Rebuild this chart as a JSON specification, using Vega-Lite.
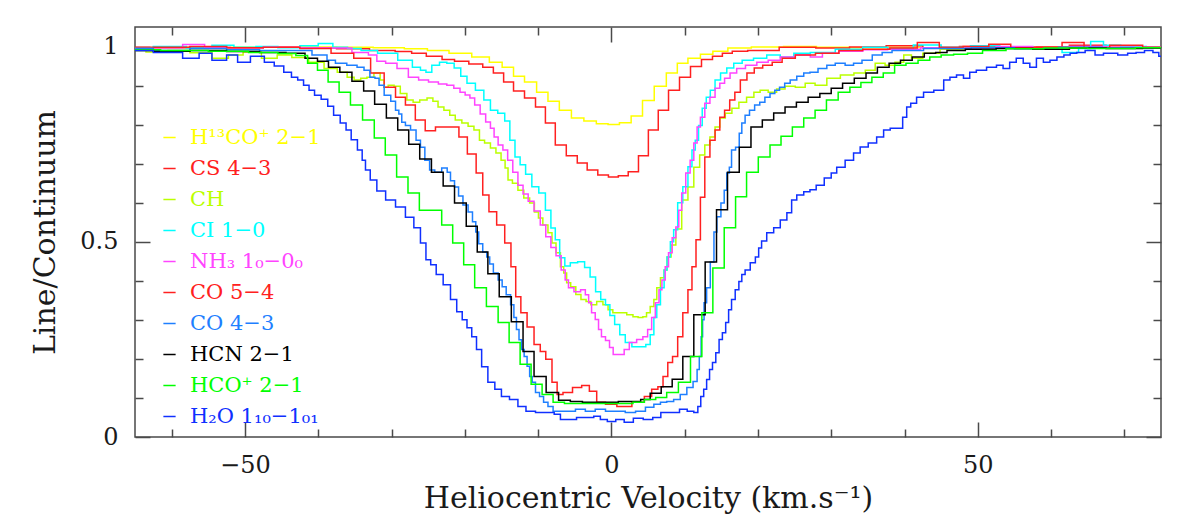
{
"$schema": "https://vega.github.io/schema/vega-lite/v6.json",
"width": 1026, "height": 410,
"autosize": {"type": "none"},
"padding": {"left": 135, "top": 27, "right": 19, "bottom": 78},
"background": "white",
"config": {
  "view": {"stroke": "#4a4a4a", "strokeWidth": 1.5},
  "font": "DejaVu Serif",
  "axis": {"domain": false, "grid": false, "tickColor": "#4a4a4a", "tickWidth": 1.5, "labelFont": "DejaVu Serif", "titleFont": "DejaVu Serif", "labelColor": "#1a1a1a", "titleColor": "#1a1a1a", "titleFontWeight": "normal", "labelFlush": false}
},
"data": {"values": [
{"s":"H13","v":-65,"y":0.997},{"s":"H13","v":-60,"y":0.998},{"s":"H13","v":-55,"y":0.999},{"s":"H13","v":-50,"y":0.998},{"s":"H13","v":-45,"y":0.998},{"s":"H13","v":-40,"y":0.999},{"s":"H13","v":-35,"y":0.998},{"s":"H13","v":-30,"y":0.997},{"s":"H13","v":-26.5,"y":0.994},{"s":"H13","v":-23.7,"y":0.99},{"s":"H13","v":-20.6,"y":0.983},{"s":"H13","v":-17.5,"y":0.973},{"s":"H13","v":-15.8,"y":0.96},{"s":"H13","v":-14.0,"y":0.947},{"s":"H13","v":-12.7,"y":0.924},{"s":"H13","v":-11.0,"y":0.909},{"s":"H13","v":-9.4,"y":0.883},{"s":"H13","v":-7.9,"y":0.86},{"s":"H13","v":-6.3,"y":0.837},{"s":"H13","v":-4.6,"y":0.817},{"s":"H13","v":-2.9,"y":0.809},{"s":"H13","v":-1.2,"y":0.802},{"s":"H13","v":0.3,"y":0.8},{"s":"H13","v":1.9,"y":0.805},{"s":"H13","v":3.5,"y":0.822},{"s":"H13","v":5.0,"y":0.862},{"s":"H13","v":6.7,"y":0.898},{"s":"H13","v":8.3,"y":0.932},{"s":"H13","v":9.7,"y":0.957},{"s":"H13","v":11.2,"y":0.97},{"s":"H13","v":13.1,"y":0.98},{"s":"H13","v":14.6,"y":0.988},{"s":"H13","v":17.2,"y":0.996},{"s":"H13","v":21,"y":0.999},{"s":"H13","v":26,"y":1.0},{"s":"H13","v":30,"y":0.998},{"s":"H13","v":35,"y":0.997},{"s":"H13","v":40,"y":0.998},{"s":"H13","v":45,"y":0.997},{"s":"H13","v":50,"y":0.998},{"s":"H13","v":55,"y":0.996},{"s":"H13","v":60,"y":0.997},{"s":"H13","v":65,"y":0.996},{"s":"H13","v":70,"y":0.997},{"s":"H13","v":75,"y":0.996},
{"s":"CS","v":-65,"y":0.998},{"s":"CS","v":-60,"y":0.997},{"s":"CS","v":-55,"y":0.999},{"s":"CS","v":-50,"y":0.997},{"s":"CS","v":-45,"y":0.998},{"s":"CS","v":-40,"y":0.996},{"s":"CS","v":-35,"y":0.994},{"s":"CS","v":-31,"y":0.99},{"s":"CS","v":-28,"y":0.987},{"s":"CS","v":-26.5,"y":0.983},{"s":"CS","v":-24,"y":0.975},{"s":"CS","v":-22.2,"y":0.967},{"s":"CS","v":-20.6,"y":0.962},{"s":"CS","v":-18.3,"y":0.955},{"s":"CS","v":-16.8,"y":0.947},{"s":"CS","v":-15.4,"y":0.932},{"s":"CS","v":-14.0,"y":0.909},{"s":"CS","v":-12.7,"y":0.886},{"s":"CS","v":-11.0,"y":0.868},{"s":"CS","v":-9.7,"y":0.845},{"s":"CS","v":-8.3,"y":0.804},{"s":"CS","v":-7.0,"y":0.748},{"s":"CS","v":-5.3,"y":0.72},{"s":"CS","v":-4.0,"y":0.702},{"s":"CS","v":-2.6,"y":0.684},{"s":"CS","v":-1.1,"y":0.671},{"s":"CS","v":0.3,"y":0.666},{"s":"CS","v":1.6,"y":0.669},{"s":"CS","v":3.0,"y":0.679},{"s":"CS","v":4.4,"y":0.72},{"s":"CS","v":5.7,"y":0.786},{"s":"CS","v":7.1,"y":0.837},{"s":"CS","v":8.5,"y":0.888},{"s":"CS","v":10.1,"y":0.921},{"s":"CS","v":11.5,"y":0.949},{"s":"CS","v":13.1,"y":0.967},{"s":"CS","v":14.5,"y":0.975},{"s":"CS","v":15.8,"y":0.983},{"s":"CS","v":17.2,"y":0.988},{"s":"CS","v":20.0,"y":0.99},{"s":"CS","v":25.8,"y":0.998},{"s":"CS","v":30,"y":0.996},{"s":"CS","v":35,"y":0.999},{"s":"CS","v":40,"y":1.002},{"s":"CS","v":45,"y":0.997},{"s":"CS","v":50,"y":1.0},{"s":"CS","v":55,"y":0.998},{"s":"CS","v":60,"y":0.999},{"s":"CS","v":65,"y":1.003},{"s":"CS","v":70,"y":0.998},{"s":"CS","v":75,"y":0.997},
{"s":"CH","v":-65,"y":0.99},{"s":"CH","v":-62,"y":0.986},{"s":"CH","v":-59,"y":0.99},{"s":"CH","v":-56,"y":0.984},{"s":"CH","v":-53,"y":0.97},{"s":"CH","v":-51.5,"y":0.978},{"s":"CH","v":-49,"y":0.986},{"s":"CH","v":-46.5,"y":0.97},{"s":"CH","v":-44.7,"y":0.978},{"s":"CH","v":-42.5,"y":0.972},{"s":"CH","v":-40.1,"y":0.96},{"s":"CH","v":-38.3,"y":0.944},{"s":"CH","v":-36.5,"y":0.934},{"s":"CH","v":-35.6,"y":0.921},{"s":"CH","v":-34.6,"y":0.914},{"s":"CH","v":-33.8,"y":0.919},{"s":"CH","v":-32.9,"y":0.921},{"s":"CH","v":-31.9,"y":0.932},{"s":"CH","v":-31.2,"y":0.914},{"s":"CH","v":-30.8,"y":0.896},{"s":"CH","v":-30.1,"y":0.901},{"s":"CH","v":-29.2,"y":0.898},{"s":"CH","v":-28.4,"y":0.88},{"s":"CH","v":-27.4,"y":0.863},{"s":"CH","v":-26.7,"y":0.857},{"s":"CH","v":-25.6,"y":0.863},{"s":"CH","v":-24.7,"y":0.868},{"s":"CH","v":-24.0,"y":0.86},{"s":"CH","v":-23.3,"y":0.845},{"s":"CH","v":-22.4,"y":0.837},{"s":"CH","v":-21.7,"y":0.824},{"s":"CH","v":-20.9,"y":0.812},{"s":"CH","v":-19.9,"y":0.804},{"s":"CH","v":-19.2,"y":0.796},{"s":"CH","v":-18.3,"y":0.786},{"s":"CH","v":-17.7,"y":0.76},{"s":"CH","v":-16.9,"y":0.753},{"s":"CH","v":-16.1,"y":0.74},{"s":"CH","v":-15.4,"y":0.727},{"s":"CH","v":-14.7,"y":0.709},{"s":"CH","v":-14.3,"y":0.689},{"s":"CH","v":-13.9,"y":0.658},{"s":"CH","v":-13.1,"y":0.65},{"s":"CH","v":-12.4,"y":0.632},{"s":"CH","v":-11.5,"y":0.612},{"s":"CH","v":-10.8,"y":0.599},{"s":"CH","v":-10.2,"y":0.576},{"s":"CH","v":-9.7,"y":0.561},{"s":"CH","v":-9.0,"y":0.543},{"s":"CH","v":-8.3,"y":0.523},{"s":"CH","v":-7.9,"y":0.497},{"s":"CH","v":-7.2,"y":0.472},{"s":"CH","v":-6.7,"y":0.436},{"s":"CH","v":-6.3,"y":0.42},{"s":"CH","v":-5.9,"y":0.395},{"s":"CH","v":-5.2,"y":0.385},{"s":"CH","v":-4.5,"y":0.365},{"s":"CH","v":-3.8,"y":0.352},{"s":"CH","v":-3.1,"y":0.347},{"s":"CH","v":-2.5,"y":0.339},{"s":"CH","v":-1.5,"y":0.347},{"s":"CH","v":-0.8,"y":0.339},{"s":"CH","v":-0.1,"y":0.326},{"s":"CH","v":0.5,"y":0.318},{"s":"CH","v":1.6,"y":0.318},{"s":"CH","v":2.6,"y":0.313},{"s":"CH","v":3.3,"y":0.308},{"s":"CH","v":4.0,"y":0.306},{"s":"CH","v":4.6,"y":0.308},{"s":"CH","v":5.0,"y":0.318},{"s":"CH","v":5.6,"y":0.334},{"s":"CH","v":6.0,"y":0.352},{"s":"CH","v":6.4,"y":0.382},{"s":"CH","v":7.0,"y":0.408},{"s":"CH","v":7.4,"y":0.428},{"s":"CH","v":7.8,"y":0.461},{"s":"CH","v":8.5,"y":0.492},{"s":"CH","v":9.1,"y":0.533},{"s":"CH","v":10.1,"y":0.607},{"s":"CH","v":10.8,"y":0.64},{"s":"CH","v":11.7,"y":0.691},{"s":"CH","v":12.4,"y":0.722},{"s":"CH","v":13.1,"y":0.748},{"s":"CH","v":13.8,"y":0.768},{"s":"CH","v":14.5,"y":0.794},{"s":"CH","v":15.1,"y":0.817},{"s":"CH","v":16.0,"y":0.829},{"s":"CH","v":16.9,"y":0.842},{"s":"CH","v":17.9,"y":0.857},{"s":"CH","v":19.0,"y":0.87},{"s":"CH","v":19.9,"y":0.883},{"s":"CH","v":20.7,"y":0.888},{"s":"CH","v":22.1,"y":0.883},{"s":"CH","v":23.0,"y":0.891},{"s":"CH","v":24.4,"y":0.898},{"s":"CH","v":25.8,"y":0.896},{"s":"CH","v":27.1,"y":0.906},{"s":"CH","v":28.5,"y":0.901},{"s":"CH","v":30.3,"y":0.919},{"s":"CH","v":32.2,"y":0.927},{"s":"CH","v":34.0,"y":0.932},{"s":"CH","v":35.3,"y":0.939},{"s":"CH","v":36.7,"y":0.957},{"s":"CH","v":38.0,"y":0.952},{"s":"CH","v":39.4,"y":0.96},{"s":"CH","v":40.4,"y":0.978},{"s":"CH","v":41.5,"y":0.97},{"s":"CH","v":43.5,"y":0.983},{"s":"CH","v":46.2,"y":0.993},{"s":"CH","v":50,"y":0.995},{"s":"CH","v":55,"y":0.997},{"s":"CH","v":60,"y":0.996},{"s":"CH","v":65,"y":0.998},{"s":"CH","v":70,"y":0.997},{"s":"CH","v":75,"y":0.998},
{"s":"CI","v":-65,"y":0.997},{"s":"CI","v":-60,"y":1.0},{"s":"CI","v":-56,"y":0.996},{"s":"CI","v":-53,"y":1.003},{"s":"CI","v":-50,"y":0.998},{"s":"CI","v":-47,"y":1.0},{"s":"CI","v":-44,"y":0.997},{"s":"CI","v":-41,"y":1.002},{"s":"CI","v":-39,"y":1.008},{"s":"CI","v":-37,"y":0.998},{"s":"CI","v":-35,"y":0.995},{"s":"CI","v":-33.3,"y":0.99},{"s":"CI","v":-30.5,"y":0.983},{"s":"CI","v":-27.8,"y":0.965},{"s":"CI","v":-26.5,"y":0.947},{"s":"CI","v":-25.6,"y":0.939},{"s":"CI","v":-25.0,"y":0.934},{"s":"CI","v":-24.0,"y":0.952},{"s":"CI","v":-22.9,"y":0.96},{"s":"CI","v":-22.0,"y":0.957},{"s":"CI","v":-20.9,"y":0.945},{"s":"CI","v":-20.2,"y":0.924},{"s":"CI","v":-19.2,"y":0.906},{"s":"CI","v":-17.9,"y":0.888},{"s":"CI","v":-16.9,"y":0.863},{"s":"CI","v":-16.1,"y":0.837},{"s":"CI","v":-14.9,"y":0.829},{"s":"CI","v":-14.2,"y":0.809},{"s":"CI","v":-13.5,"y":0.76},{"s":"CI","v":-12.8,"y":0.717},{"s":"CI","v":-12.1,"y":0.697},{"s":"CI","v":-11.3,"y":0.673},{"s":"CI","v":-10.4,"y":0.641},{"s":"CI","v":-9.4,"y":0.625},{"s":"CI","v":-8.6,"y":0.581},{"s":"CI","v":-7.9,"y":0.535},{"s":"CI","v":-7.4,"y":0.505},{"s":"CI","v":-6.7,"y":0.459},{"s":"CI","v":-6.0,"y":0.438},{"s":"CI","v":-5.2,"y":0.446},{"s":"CI","v":-4.0,"y":0.449},{"s":"CI","v":-3.3,"y":0.434},{"s":"CI","v":-2.5,"y":0.41},{"s":"CI","v":-1.8,"y":0.372},{"s":"CI","v":-1.1,"y":0.352},{"s":"CI","v":-0.5,"y":0.339},{"s":"CI","v":0.1,"y":0.311},{"s":"CI","v":0.8,"y":0.288},{"s":"CI","v":1.5,"y":0.262},{"s":"CI","v":2.3,"y":0.242},{"s":"CI","v":3.3,"y":0.231},{"s":"CI","v":4.4,"y":0.231},{"s":"CI","v":5.0,"y":0.237},{"s":"CI","v":5.6,"y":0.262},{"s":"CI","v":6.0,"y":0.306},{"s":"CI","v":6.4,"y":0.339},{"s":"CI","v":7.0,"y":0.382},{"s":"CI","v":7.4,"y":0.428},{"s":"CI","v":7.8,"y":0.461},{"s":"CI","v":8.3,"y":0.5},{"s":"CI","v":8.7,"y":0.531},{"s":"CI","v":9.4,"y":0.6},{"s":"CI","v":10.1,"y":0.641},{"s":"CI","v":10.8,"y":0.692},{"s":"CI","v":11.2,"y":0.735},{"s":"CI","v":11.7,"y":0.76},{"s":"CI","v":12.1,"y":0.798},{"s":"CI","v":12.7,"y":0.842},{"s":"CI","v":13.2,"y":0.87},{"s":"CI","v":13.8,"y":0.888},{"s":"CI","v":14.5,"y":0.914},{"s":"CI","v":15.3,"y":0.932},{"s":"CI","v":16.2,"y":0.945},{"s":"CI","v":17.2,"y":0.957},{"s":"CI","v":18.5,"y":0.965},{"s":"CI","v":20.3,"y":0.97},{"s":"CI","v":22.1,"y":0.978},{"s":"CI","v":24.0,"y":0.973},{"s":"CI","v":25.8,"y":0.983},{"s":"CI","v":28.5,"y":0.985},{"s":"CI","v":32.6,"y":0.993},{"s":"CI","v":36,"y":0.998},{"s":"CI","v":39.4,"y":0.995},{"s":"CI","v":43,"y":1.004},{"s":"CI","v":47,"y":0.998},{"s":"CI","v":51,"y":1.002},{"s":"CI","v":55,"y":0.999},{"s":"CI","v":60,"y":0.994},{"s":"CI","v":63,"y":0.985},{"s":"CI","v":64.5,"y":0.995},{"s":"CI","v":66.3,"y":1.013},{"s":"CI","v":68,"y":1.003},{"s":"CI","v":71,"y":1.0},{"s":"CI","v":75,"y":0.998},
{"s":"NH3","v":-65,"y":0.995},{"s":"NH3","v":-60,"y":0.997},{"s":"NH3","v":-57,"y":1.005},{"s":"NH3","v":-54,"y":0.998},{"s":"NH3","v":-50,"y":0.997},{"s":"NH3","v":-45,"y":0.998},{"s":"NH3","v":-40,"y":0.997},{"s":"NH3","v":-37.0,"y":0.996},{"s":"NH3","v":-33.8,"y":0.985},{"s":"NH3","v":-32.5,"y":0.978},{"s":"NH3","v":-31.5,"y":0.962},{"s":"NH3","v":-30.1,"y":0.957},{"s":"NH3","v":-28.4,"y":0.944},{"s":"NH3","v":-27.0,"y":0.921},{"s":"NH3","v":-25.6,"y":0.914},{"s":"NH3","v":-24.3,"y":0.909},{"s":"NH3","v":-22.9,"y":0.904},{"s":"NH3","v":-22.0,"y":0.901},{"s":"NH3","v":-21.0,"y":0.893},{"s":"NH3","v":-20.3,"y":0.883},{"s":"NH3","v":-19.6,"y":0.876},{"s":"NH3","v":-19.0,"y":0.868},{"s":"NH3","v":-18.3,"y":0.85},{"s":"NH3","v":-17.5,"y":0.827},{"s":"NH3","v":-16.8,"y":0.807},{"s":"NH3","v":-16.2,"y":0.791},{"s":"NH3","v":-15.8,"y":0.768},{"s":"NH3","v":-15.1,"y":0.748},{"s":"NH3","v":-14.5,"y":0.735},{"s":"NH3","v":-13.8,"y":0.709},{"s":"NH3","v":-13.1,"y":0.678},{"s":"NH3","v":-12.4,"y":0.645},{"s":"NH3","v":-11.7,"y":0.622},{"s":"NH3","v":-11.0,"y":0.604},{"s":"NH3","v":-10.1,"y":0.579},{"s":"NH3","v":-9.3,"y":0.543},{"s":"NH3","v":-8.6,"y":0.513},{"s":"NH3","v":-7.9,"y":0.485},{"s":"NH3","v":-7.2,"y":0.464},{"s":"NH3","v":-6.5,"y":0.428},{"s":"NH3","v":-6.1,"y":0.402},{"s":"NH3","v":-5.6,"y":0.382},{"s":"NH3","v":-4.6,"y":0.372},{"s":"NH3","v":-3.8,"y":0.377},{"s":"NH3","v":-3.3,"y":0.364},{"s":"NH3","v":-2.9,"y":0.344},{"s":"NH3","v":-2.5,"y":0.318},{"s":"NH3","v":-1.9,"y":0.301},{"s":"NH3","v":-1.6,"y":0.275},{"s":"NH3","v":-1.1,"y":0.257},{"s":"NH3","v":-0.5,"y":0.247},{"s":"NH3","v":0.0,"y":0.229},{"s":"NH3","v":0.5,"y":0.211},{"s":"NH3","v":1.5,"y":0.211},{"s":"NH3","v":2.0,"y":0.224},{"s":"NH3","v":2.9,"y":0.242},{"s":"NH3","v":4.0,"y":0.25},{"s":"NH3","v":4.6,"y":0.257},{"s":"NH3","v":5.3,"y":0.275},{"s":"NH3","v":5.7,"y":0.306},{"s":"NH3","v":6.3,"y":0.344},{"s":"NH3","v":6.7,"y":0.377},{"s":"NH3","v":7.1,"y":0.402},{"s":"NH3","v":7.6,"y":0.436},{"s":"NH3","v":8.0,"y":0.472},{"s":"NH3","v":8.6,"y":0.51},{"s":"NH3","v":9.0,"y":0.538},{"s":"NH3","v":9.4,"y":0.581},{"s":"NH3","v":9.8,"y":0.625},{"s":"NH3","v":10.5,"y":0.676},{"s":"NH3","v":11.0,"y":0.709},{"s":"NH3","v":11.5,"y":0.753},{"s":"NH3","v":11.9,"y":0.794},{"s":"NH3","v":12.4,"y":0.819},{"s":"NH3","v":13.1,"y":0.855},{"s":"NH3","v":13.8,"y":0.87},{"s":"NH3","v":14.5,"y":0.893},{"s":"NH3","v":15.1,"y":0.906},{"s":"NH3","v":15.8,"y":0.919},{"s":"NH3","v":16.6,"y":0.932},{"s":"NH3","v":17.6,"y":0.944},{"s":"NH3","v":19.0,"y":0.952},{"s":"NH3","v":20.7,"y":0.96},{"s":"NH3","v":22.1,"y":0.965},{"s":"NH3","v":24.0,"y":0.973},{"s":"NH3","v":26.2,"y":0.978},{"s":"NH3","v":28.1,"y":0.973},{"s":"NH3","v":29.5,"y":0.983},{"s":"NH3","v":32.6,"y":0.988},{"s":"NH3","v":36,"y":0.992},{"s":"NH3","v":39.4,"y":0.993},{"s":"NH3","v":45,"y":0.997},{"s":"NH3","v":50,"y":0.996},{"s":"NH3","v":55,"y":1.0},{"s":"NH3","v":60,"y":0.997},{"s":"NH3","v":65,"y":1.0},{"s":"NH3","v":70,"y":0.998},{"s":"NH3","v":75,"y":0.998},
{"s":"CO54","v":-65,"y":0.996},{"s":"CO54","v":-60,"y":0.998},{"s":"CO54","v":-55,"y":1.0},{"s":"CO54","v":-50,"y":0.997},{"s":"CO54","v":-45,"y":0.998},{"s":"CO54","v":-40,"y":0.995},{"s":"CO54","v":-36.5,"y":0.983},{"s":"CO54","v":-33.8,"y":0.97},{"s":"CO54","v":-31.9,"y":0.932},{"s":"CO54","v":-30.1,"y":0.896},{"s":"CO54","v":-28.8,"y":0.87},{"s":"CO54","v":-27.4,"y":0.85},{"s":"CO54","v":-26.1,"y":0.812},{"s":"CO54","v":-24.7,"y":0.784},{"s":"CO54","v":-23.3,"y":0.794},{"s":"CO54","v":-21.3,"y":0.794},{"s":"CO54","v":-20.3,"y":0.768},{"s":"CO54","v":-19.0,"y":0.725},{"s":"CO54","v":-17.9,"y":0.676},{"s":"CO54","v":-17.2,"y":0.62},{"s":"CO54","v":-16.2,"y":0.577},{"s":"CO54","v":-15.1,"y":0.543},{"s":"CO54","v":-14.0,"y":0.497},{"s":"CO54","v":-13.4,"y":0.436},{"s":"CO54","v":-12.7,"y":0.359},{"s":"CO54","v":-12.0,"y":0.318},{"s":"CO54","v":-11.0,"y":0.282},{"s":"CO54","v":-10.1,"y":0.237},{"s":"CO54","v":-9.3,"y":0.219},{"s":"CO54","v":-8.6,"y":0.199},{"s":"CO54","v":-7.6,"y":0.14},{"s":"CO54","v":-7.2,"y":0.109},{"s":"CO54","v":-6.0,"y":0.114},{"s":"CO54","v":-4.6,"y":0.127},{"s":"CO54","v":-3.5,"y":0.132},{"s":"CO54","v":-2.5,"y":0.117},{"s":"CO54","v":-1.5,"y":0.089},{"s":"CO54","v":-0.1,"y":0.084},{"s":"CO54","v":1.6,"y":0.078},{"s":"CO54","v":4.0,"y":0.089},{"s":"CO54","v":5.0,"y":0.104},{"s":"CO54","v":6.0,"y":0.122},{"s":"CO54","v":6.7,"y":0.129},{"s":"CO54","v":7.4,"y":0.155},{"s":"CO54","v":8.0,"y":0.191},{"s":"CO54","v":8.7,"y":0.206},{"s":"CO54","v":9.4,"y":0.257},{"s":"CO54","v":10.1,"y":0.318},{"s":"CO54","v":10.8,"y":0.377},{"s":"CO54","v":11.2,"y":0.436},{"s":"CO54","v":11.9,"y":0.505},{"s":"CO54","v":12.4,"y":0.614},{"s":"CO54","v":13.1,"y":0.717},{"s":"CO54","v":13.8,"y":0.76},{"s":"CO54","v":14.5,"y":0.786},{"s":"CO54","v":15.1,"y":0.819},{"s":"CO54","v":15.8,"y":0.837},{"s":"CO54","v":16.5,"y":0.863},{"s":"CO54","v":17.2,"y":0.883},{"s":"CO54","v":18.0,"y":0.914},{"s":"CO54","v":19.0,"y":0.932},{"s":"CO54","v":20.0,"y":0.945},{"s":"CO54","v":21.3,"y":0.952},{"s":"CO54","v":22.6,"y":0.96},{"s":"CO54","v":24.0,"y":0.97},{"s":"CO54","v":26.2,"y":0.978},{"s":"CO54","v":29.5,"y":0.983},{"s":"CO54","v":32.6,"y":0.99},{"s":"CO54","v":36,"y":0.993},{"s":"CO54","v":40,"y":0.996},{"s":"CO54","v":43.5,"y":1.01},{"s":"CO54","v":46,"y":0.998},{"s":"CO54","v":50,"y":1.0},{"s":"CO54","v":53,"y":1.006},{"s":"CO54","v":56,"y":0.997},{"s":"CO54","v":60,"y":0.998},{"s":"CO54","v":63,"y":1.01},{"s":"CO54","v":66,"y":0.997},{"s":"CO54","v":70,"y":1.003},{"s":"CO54","v":75,"y":0.998},
{"s":"CO43","v":-65,"y":0.995},{"s":"CO43","v":-60,"y":0.99},{"s":"CO43","v":-55,"y":0.995},{"s":"CO43","v":-50,"y":0.992},{"s":"CO43","v":-46,"y":0.99},{"s":"CO43","v":-42.4,"y":0.99},{"s":"CO43","v":-39.3,"y":0.978},{"s":"CO43","v":-38.3,"y":0.965},{"s":"CO43","v":-37.0,"y":0.957},{"s":"CO43","v":-35.2,"y":0.952},{"s":"CO43","v":-34.2,"y":0.947},{"s":"CO43","v":-33.3,"y":0.939},{"s":"CO43","v":-32.6,"y":0.921},{"s":"CO43","v":-31.9,"y":0.919},{"s":"CO43","v":-31.5,"y":0.901},{"s":"CO43","v":-30.5,"y":0.875},{"s":"CO43","v":-29.7,"y":0.86},{"s":"CO43","v":-29.2,"y":0.837},{"s":"CO43","v":-28.8,"y":0.827},{"s":"CO43","v":-28.4,"y":0.806},{"s":"CO43","v":-27.8,"y":0.798},{"s":"CO43","v":-27.0,"y":0.786},{"s":"CO43","v":-26.3,"y":0.76},{"s":"CO43","v":-25.8,"y":0.742},{"s":"CO43","v":-25.1,"y":0.709},{"s":"CO43","v":-24.5,"y":0.684},{"s":"CO43","v":-23.7,"y":0.678},{"s":"CO43","v":-22.6,"y":0.689},{"s":"CO43","v":-22.2,"y":0.678},{"s":"CO43","v":-21.7,"y":0.656},{"s":"CO43","v":-21.1,"y":0.64},{"s":"CO43","v":-20.6,"y":0.617},{"s":"CO43","v":-19.9,"y":0.594},{"s":"CO43","v":-19.2,"y":0.576},{"s":"CO43","v":-18.7,"y":0.551},{"s":"CO43","v":-18.3,"y":0.525},{"s":"CO43","v":-17.9,"y":0.495},{"s":"CO43","v":-17.2,"y":0.474},{"s":"CO43","v":-16.8,"y":0.461},{"s":"CO43","v":-16.4,"y":0.443},{"s":"CO43","v":-15.8,"y":0.42},{"s":"CO43","v":-15.1,"y":0.402},{"s":"CO43","v":-14.7,"y":0.385},{"s":"CO43","v":-14.0,"y":0.364},{"s":"CO43","v":-13.5,"y":0.339},{"s":"CO43","v":-13.1,"y":0.306},{"s":"CO43","v":-12.8,"y":0.275},{"s":"CO43","v":-12.4,"y":0.249},{"s":"CO43","v":-12.1,"y":0.224},{"s":"CO43","v":-11.7,"y":0.206},{"s":"CO43","v":-11.3,"y":0.181},{"s":"CO43","v":-11.0,"y":0.155},{"s":"CO43","v":-10.6,"y":0.14},{"s":"CO43","v":-10.1,"y":0.114},{"s":"CO43","v":-9.5,"y":0.104},{"s":"CO43","v":-9.0,"y":0.089},{"s":"CO43","v":-8.3,"y":0.078},{"s":"CO43","v":-7.6,"y":0.066},{"s":"CO43","v":-5.6,"y":0.066},{"s":"CO43","v":-4.2,"y":0.071},{"s":"CO43","v":-2.9,"y":0.066},{"s":"CO43","v":-1.5,"y":0.071},{"s":"CO43","v":-0.1,"y":0.066},{"s":"CO43","v":1.2,"y":0.066},{"s":"CO43","v":2.6,"y":0.063},{"s":"CO43","v":4.0,"y":0.066},{"s":"CO43","v":5.3,"y":0.076},{"s":"CO43","v":6.3,"y":0.084},{"s":"CO43","v":7.1,"y":0.089},{"s":"CO43","v":8.0,"y":0.091},{"s":"CO43","v":9.0,"y":0.096},{"s":"CO43","v":9.8,"y":0.109},{"s":"CO43","v":10.8,"y":0.127},{"s":"CO43","v":11.5,"y":0.142},{"s":"CO43","v":11.9,"y":0.173},{"s":"CO43","v":12.1,"y":0.206},{"s":"CO43","v":12.4,"y":0.257},{"s":"CO43","v":12.5,"y":0.3},{"s":"CO43","v":12.8,"y":0.344},{"s":"CO43","v":13.2,"y":0.382},{"s":"CO43","v":13.8,"y":0.448},{"s":"CO43","v":14.2,"y":0.525},{"s":"CO43","v":14.6,"y":0.564},{"s":"CO43","v":15.3,"y":0.599},{"s":"CO43","v":15.5,"y":0.632},{"s":"CO43","v":16.0,"y":0.676},{"s":"CO43","v":16.2,"y":0.691},{"s":"CO43","v":16.6,"y":0.735},{"s":"CO43","v":17.3,"y":0.742},{"s":"CO43","v":17.6,"y":0.778},{"s":"CO43","v":18.0,"y":0.804},{"s":"CO43","v":18.5,"y":0.824},{"s":"CO43","v":19.2,"y":0.837},{"s":"CO43","v":19.9,"y":0.85},{"s":"CO43","v":20.6,"y":0.857},{"s":"CO43","v":21.3,"y":0.87},{"s":"CO43","v":22.0,"y":0.88},{"s":"CO43","v":22.6,"y":0.888},{"s":"CO43","v":23.3,"y":0.896},{"s":"CO43","v":24.0,"y":0.906},{"s":"CO43","v":24.8,"y":0.914},{"s":"CO43","v":25.8,"y":0.924},{"s":"CO43","v":26.7,"y":0.932},{"s":"CO43","v":27.5,"y":0.934},{"s":"CO43","v":28.9,"y":0.944},{"s":"CO43","v":29.9,"y":0.952},{"s":"CO43","v":31.2,"y":0.957},{"s":"CO43","v":32.6,"y":0.952},{"s":"CO43","v":33.5,"y":0.957},{"s":"CO43","v":34.9,"y":0.965},{"s":"CO43","v":36.3,"y":0.978},{"s":"CO43","v":37.6,"y":0.985},{"s":"CO43","v":39.0,"y":0.99},{"s":"CO43","v":46.2,"y":0.995},{"s":"CO43","v":52,"y":0.997},{"s":"CO43","v":58,"y":0.994},{"s":"CO43","v":64,"y":0.998},{"s":"CO43","v":70,"y":0.996},{"s":"CO43","v":75,"y":0.997},
{"s":"HCN","v":-65,"y":0.99},{"s":"HCN","v":-60,"y":0.988},{"s":"HCN","v":-55,"y":0.99},{"s":"HCN","v":-50,"y":0.987},{"s":"HCN","v":-46,"y":0.985},{"s":"HCN","v":-42.8,"y":0.983},{"s":"HCN","v":-40.8,"y":0.97},{"s":"HCN","v":-39.4,"y":0.962},{"s":"HCN","v":-37.8,"y":0.947},{"s":"HCN","v":-36.3,"y":0.934},{"s":"HCN","v":-34.5,"y":0.911},{"s":"HCN","v":-33.1,"y":0.886},{"s":"HCN","v":-31.5,"y":0.852},{"s":"HCN","v":-29.9,"y":0.817},{"s":"HCN","v":-28.4,"y":0.786},{"s":"HCN","v":-26.9,"y":0.75},{"s":"HCN","v":-25.4,"y":0.712},{"s":"HCN","v":-23.7,"y":0.678},{"s":"HCN","v":-22.2,"y":0.643},{"s":"HCN","v":-20.6,"y":0.599},{"s":"HCN","v":-19.0,"y":0.54},{"s":"HCN","v":-17.6,"y":0.474},{"s":"HCN","v":-16.1,"y":0.418},{"s":"HCN","v":-14.5,"y":0.359},{"s":"HCN","v":-12.8,"y":0.295},{"s":"HCN","v":-11.3,"y":0.219},{"s":"HCN","v":-9.8,"y":0.155},{"s":"HCN","v":-8.0,"y":0.114},{"s":"HCN","v":-6.4,"y":0.094},{"s":"HCN","v":-4.8,"y":0.091},{"s":"HCN","v":-3.1,"y":0.089},{"s":"HCN","v":-1.5,"y":0.089},{"s":"HCN","v":0.1,"y":0.089},{"s":"HCN","v":1.8,"y":0.091},{"s":"HCN","v":3.4,"y":0.091},{"s":"HCN","v":4.6,"y":0.096},{"s":"HCN","v":6.0,"y":0.112},{"s":"HCN","v":7.6,"y":0.129},{"s":"HCN","v":9.0,"y":0.148},{"s":"HCN","v":10.5,"y":0.206},{"s":"HCN","v":12.0,"y":0.313},{"s":"HCN","v":13.6,"y":0.448},{"s":"HCN","v":15.1,"y":0.582},{"s":"HCN","v":16.6,"y":0.678},{"s":"HCN","v":18.3,"y":0.742},{"s":"HCN","v":19.8,"y":0.794},{"s":"HCN","v":21.4,"y":0.812},{"s":"HCN","v":22.9,"y":0.83},{"s":"HCN","v":24.5,"y":0.845},{"s":"HCN","v":26.0,"y":0.857},{"s":"HCN","v":27.7,"y":0.87},{"s":"HCN","v":29.2,"y":0.88},{"s":"HCN","v":30.8,"y":0.893},{"s":"HCN","v":32.3,"y":0.906},{"s":"HCN","v":34.0,"y":0.919},{"s":"HCN","v":35.5,"y":0.932},{"s":"HCN","v":37.1,"y":0.947},{"s":"HCN","v":38.7,"y":0.957},{"s":"HCN","v":40.2,"y":0.965},{"s":"HCN","v":41.9,"y":0.973},{"s":"HCN","v":43.5,"y":0.983},{"s":"HCN","v":45.0,"y":0.985},{"s":"HCN","v":46.6,"y":0.99},{"s":"HCN","v":50,"y":0.993},{"s":"HCN","v":55,"y":0.995},{"s":"HCN","v":60,"y":0.993},{"s":"HCN","v":65,"y":0.996},{"s":"HCN","v":70,"y":0.995},{"s":"HCN","v":75,"y":0.996},
{"s":"HCOp","v":-65,"y":0.992},{"s":"HCOp","v":-58,"y":0.99},{"s":"HCOp","v":-52,"y":0.988},{"s":"HCOp","v":-47,"y":0.985},{"s":"HCOp","v":-44,"y":0.982},{"s":"HCOp","v":-42.1,"y":0.977},{"s":"HCOp","v":-40.8,"y":0.957},{"s":"HCOp","v":-39.4,"y":0.939},{"s":"HCOp","v":-37.9,"y":0.909},{"s":"HCOp","v":-36.4,"y":0.883},{"s":"HCOp","v":-34.8,"y":0.85},{"s":"HCOp","v":-33.1,"y":0.812},{"s":"HCOp","v":-31.6,"y":0.766},{"s":"HCOp","v":-30.1,"y":0.722},{"s":"HCOp","v":-28.5,"y":0.666},{"s":"HCOp","v":-27.0,"y":0.625},{"s":"HCOp","v":-25.4,"y":0.581},{"s":"HCOp","v":-23.9,"y":0.581},{"s":"HCOp","v":-22.4,"y":0.543},{"s":"HCOp","v":-20.9,"y":0.497},{"s":"HCOp","v":-19.4,"y":0.441},{"s":"HCOp","v":-17.9,"y":0.382},{"s":"HCOp","v":-16.2,"y":0.334},{"s":"HCOp","v":-14.7,"y":0.293},{"s":"HCOp","v":-13.2,"y":0.242},{"s":"HCOp","v":-11.7,"y":0.186},{"s":"HCOp","v":-10.2,"y":0.135},{"s":"HCOp","v":-8.7,"y":0.109},{"s":"HCOp","v":-7.2,"y":0.089},{"s":"HCOp","v":-5.6,"y":0.086},{"s":"HCOp","v":-4.1,"y":0.086},{"s":"HCOp","v":-2.6,"y":0.086},{"s":"HCOp","v":-1.0,"y":0.086},{"s":"HCOp","v":0.5,"y":0.086},{"s":"HCOp","v":2.2,"y":0.086},{"s":"HCOp","v":3.7,"y":0.089},{"s":"HCOp","v":5.3,"y":0.096},{"s":"HCOp","v":6.8,"y":0.101},{"s":"HCOp","v":8.3,"y":0.114},{"s":"HCOp","v":10.0,"y":0.14},{"s":"HCOp","v":11.6,"y":0.206},{"s":"HCOp","v":13.1,"y":0.318},{"s":"HCOp","v":14.6,"y":0.433},{"s":"HCOp","v":16.2,"y":0.536},{"s":"HCOp","v":17.7,"y":0.615},{"s":"HCOp","v":19.2,"y":0.678},{"s":"HCOp","v":20.9,"y":0.717},{"s":"HCOp","v":22.4,"y":0.748},{"s":"HCOp","v":23.9,"y":0.77},{"s":"HCOp","v":25.5,"y":0.794},{"s":"HCOp","v":27.0,"y":0.817},{"s":"HCOp","v":28.6,"y":0.837},{"s":"HCOp","v":30.1,"y":0.863},{"s":"HCOp","v":31.8,"y":0.883},{"s":"HCOp","v":33.3,"y":0.896},{"s":"HCOp","v":34.8,"y":0.908},{"s":"HCOp","v":36.3,"y":0.921},{"s":"HCOp","v":37.9,"y":0.932},{"s":"HCOp","v":39.4,"y":0.952},{"s":"HCOp","v":41.0,"y":0.957},{"s":"HCOp","v":42.7,"y":0.965},{"s":"HCOp","v":44.2,"y":0.973},{"s":"HCOp","v":45.8,"y":0.978},{"s":"HCOp","v":47.6,"y":0.98},{"s":"HCOp","v":49.6,"y":0.983},{"s":"HCOp","v":51.7,"y":0.99},{"s":"HCOp","v":56,"y":0.994},{"s":"HCOp","v":62,"y":0.996},{"s":"HCOp","v":68,"y":0.995},{"s":"HCOp","v":75,"y":0.997},
{"s":"H2O","v":-65,"y":0.99},{"s":"H2O","v":-60,"y":0.985},{"s":"H2O","v":-57,"y":0.97},{"s":"H2O","v":-55.5,"y":0.983},{"s":"H2O","v":-53.5,"y":0.965},{"s":"H2O","v":-51.5,"y":0.978},{"s":"H2O","v":-50.5,"y":0.96},{"s":"H2O","v":-48,"y":0.975},{"s":"H2O","v":-46.7,"y":0.96},{"s":"H2O","v":-45.3,"y":0.95},{"s":"H2O","v":-44.1,"y":0.934},{"s":"H2O","v":-43.2,"y":0.921},{"s":"H2O","v":-42.4,"y":0.914},{"s":"H2O","v":-41.6,"y":0.901},{"s":"H2O","v":-40.9,"y":0.888},{"s":"H2O","v":-40.1,"y":0.875},{"s":"H2O","v":-39.1,"y":0.865},{"s":"H2O","v":-38.3,"y":0.847},{"s":"H2O","v":-37.5,"y":0.824},{"s":"H2O","v":-36.5,"y":0.804},{"s":"H2O","v":-35.9,"y":0.786},{"s":"H2O","v":-35.1,"y":0.761},{"s":"H2O","v":-34.2,"y":0.735},{"s":"H2O","v":-33.8,"y":0.709},{"s":"H2O","v":-33.3,"y":0.684},{"s":"H2O","v":-32.5,"y":0.658},{"s":"H2O","v":-31.5,"y":0.63},{"s":"H2O","v":-30.1,"y":0.607},{"s":"H2O","v":-28.8,"y":0.589},{"s":"H2O","v":-27.4,"y":0.563},{"s":"H2O","v":-26.5,"y":0.536},{"s":"H2O","v":-25.6,"y":0.497},{"s":"H2O","v":-25.0,"y":0.454},{"s":"H2O","v":-24.3,"y":0.441},{"s":"H2O","v":-23.5,"y":0.416},{"s":"H2O","v":-22.4,"y":0.39},{"s":"H2O","v":-21.5,"y":0.352},{"s":"H2O","v":-20.7,"y":0.321},{"s":"H2O","v":-20.0,"y":0.3},{"s":"H2O","v":-19.4,"y":0.28},{"s":"H2O","v":-18.7,"y":0.257},{"s":"H2O","v":-18.1,"y":0.224},{"s":"H2O","v":-17.3,"y":0.18},{"s":"H2O","v":-16.4,"y":0.14},{"s":"H2O","v":-15.4,"y":0.122},{"s":"H2O","v":-14.6,"y":0.104},{"s":"H2O","v":-13.2,"y":0.096},{"s":"H2O","v":-12.3,"y":0.078},{"s":"H2O","v":-11.0,"y":0.066},{"s":"H2O","v":-9.7,"y":0.063},{"s":"H2O","v":-8.2,"y":0.063},{"s":"H2O","v":-7.4,"y":0.058},{"s":"H2O","v":-6.5,"y":0.045},{"s":"H2O","v":-5.3,"y":0.045},{"s":"H2O","v":-4.2,"y":0.05},{"s":"H2O","v":-2.9,"y":0.05},{"s":"H2O","v":-1.9,"y":0.053},{"s":"H2O","v":-1.1,"y":0.045},{"s":"H2O","v":0.0,"y":0.04},{"s":"H2O","v":1.2,"y":0.045},{"s":"H2O","v":2.3,"y":0.038},{"s":"H2O","v":3.7,"y":0.048},{"s":"H2O","v":5.0,"y":0.045},{"s":"H2O","v":6.3,"y":0.05},{"s":"H2O","v":7.2,"y":0.063},{"s":"H2O","v":8.8,"y":0.063},{"s":"H2O","v":9.8,"y":0.071},{"s":"H2O","v":10.9,"y":0.066},{"s":"H2O","v":11.6,"y":0.063},{"s":"H2O","v":12.0,"y":0.078},{"s":"H2O","v":12.4,"y":0.104},{"s":"H2O","v":12.8,"y":0.122},{"s":"H2O","v":13.2,"y":0.147},{"s":"H2O","v":13.6,"y":0.173},{"s":"H2O","v":14.0,"y":0.191},{"s":"H2O","v":14.5,"y":0.216},{"s":"H2O","v":14.9,"y":0.25},{"s":"H2O","v":15.4,"y":0.267},{"s":"H2O","v":15.8,"y":0.293},{"s":"H2O","v":16.2,"y":0.326},{"s":"H2O","v":16.6,"y":0.352},{"s":"H2O","v":17.2,"y":0.377},{"s":"H2O","v":17.6,"y":0.398},{"s":"H2O","v":18.0,"y":0.416},{"s":"H2O","v":18.5,"y":0.428},{"s":"H2O","v":19.4,"y":0.446},{"s":"H2O","v":19.9,"y":0.461},{"s":"H2O","v":20.3,"y":0.484},{"s":"H2O","v":20.7,"y":0.502},{"s":"H2O","v":21.7,"y":0.523},{"s":"H2O","v":22.6,"y":0.536},{"s":"H2O","v":23.5,"y":0.556},{"s":"H2O","v":24.4,"y":0.574},{"s":"H2O","v":24.8,"y":0.607},{"s":"H2O","v":25.8,"y":0.62},{"s":"H2O","v":26.7,"y":0.628},{"s":"H2O","v":27.5,"y":0.633},{"s":"H2O","v":28.4,"y":0.645},{"s":"H2O","v":29.7,"y":0.663},{"s":"H2O","v":30.3,"y":0.676},{"s":"H2O","v":31.2,"y":0.691},{"s":"H2O","v":32.6,"y":0.709},{"s":"H2O","v":33.5,"y":0.727},{"s":"H2O","v":34.4,"y":0.743},{"s":"H2O","v":35.7,"y":0.753},{"s":"H2O","v":36.7,"y":0.768},{"s":"H2O","v":37.6,"y":0.786},{"s":"H2O","v":38.5,"y":0.791},{"s":"H2O","v":39.4,"y":0.791},{"s":"H2O","v":40.1,"y":0.819},{"s":"H2O","v":40.5,"y":0.845},{"s":"H2O","v":41.2,"y":0.855},{"s":"H2O","v":42.1,"y":0.87},{"s":"H2O","v":43.1,"y":0.883},{"s":"H2O","v":44.9,"y":0.888},{"s":"H2O","v":45.8,"y":0.914},{"s":"H2O","v":46.6,"y":0.921},{"s":"H2O","v":47.6,"y":0.927},{"s":"H2O","v":48.5,"y":0.919},{"s":"H2O","v":49.3,"y":0.934},{"s":"H2O","v":50.3,"y":0.939},{"s":"H2O","v":52.1,"y":0.947},{"s":"H2O","v":53.0,"y":0.952},{"s":"H2O","v":53.9,"y":0.944},{"s":"H2O","v":54.8,"y":0.96},{"s":"H2O","v":55.7,"y":0.97},{"s":"H2O","v":56.7,"y":0.957},{"s":"H2O","v":57.5,"y":0.947},{"s":"H2O","v":58.5,"y":0.97},{"s":"H2O","v":59.4,"y":0.96},{"s":"H2O","v":60.3,"y":0.965},{"s":"H2O","v":61.3,"y":0.973},{"s":"H2O","v":62.2,"y":0.978},{"s":"H2O","v":63.0,"y":0.983},{"s":"H2O","v":64.0,"y":0.985},{"s":"H2O","v":65.3,"y":0.99},{"s":"H2O","v":66.7,"y":0.978},{"s":"H2O","v":67.6,"y":0.983},{"s":"H2O","v":68.4,"y":0.983},{"s":"H2O","v":69.8,"y":0.978},{"s":"H2O","v":71.1,"y":0.983},{"s":"H2O","v":72.1,"y":0.985},{"s":"H2O","v":73.4,"y":0.99},{"s":"H2O","v":74.4,"y":0.985},{"s":"H2O","v":75.0,"y":0.975}
]},
"layer": [
  {
    "mark": {"type": "line", "interpolate": "step", "strokeWidth": 1.5, "clip": true},
    "encoding": {
      "x": {"field": "v", "type": "quantitative", "scale": {"domain": [-65, 75], "nice": false, "zero": false},
            "axis": {"orient": "bottom", "values": [-50, 0, 50], "tickSize": -15, "labelPadding": 31, "labelFontSize": 24, "title": "Heliocentric Velocity (km.s⁻¹)", "titleFontSize": 30, "titlePadding": 6}},
      "y": {"field": "y", "type": "quantitative", "scale": {"domain": [0, 1.05], "nice": false, "zero": false},
            "axis": {"orient": "left", "values": [0, 0.5, 1], "format": "~g", "tickSize": -15, "labelPadding": 32, "labelFontSize": 24, "title": "Line/Continuum", "titleFontSize": 30, "titlePadding": 19}},
      "color": {"field": "s", "type": "nominal",
        "scale": {"domain": ["H13","CS","CH","CI","NH3","CO54","CO43","HCN","HCOp","H2O"],
                  "range": ["#FFFF00","#FF2020","#BBFF00","#00FFFF","#FF44FF","#FF2020","#1E7FFF","#000000","#00FF00","#1030FF"]},
        "legend": {"orient": "none", "legendX": 24, "legendY": 100, "title": null, "symbolType": "stroke", "symbolSize": 150, "symbolStrokeWidth": 1.5, "labelFont": "DejaVu Serif", "labelFontSize": 21, "labelOffset": 10, "rowPadding": 9, "padding": 0, "labelLimit": 300,
          "labelExpr": "{'H13':'H¹³CO⁺ 2−1','CS':'CS 4−3','CH':'CH','CI':'CI 1−0','NH3':'NH₃ 1₀−0₀','CO54':'CO 5−4','CO43':'CO 4−3','HCN':'HCN 2−1','HCOp':'HCO⁺ 2−1','H2O':'H₂O 1₁₀−1₀₁'}[datum.label]",
          "encode": {"labels": {"update": {"fill": {"scale": "color", "field": "value"}}}}}
      }
    }
  },
  {
    "mark": {"type": "point", "opacity": 0},
    "encoding": {
      "x": {"field": "v", "type": "quantitative", "axis": {"orient": "bottom", "values": [-60,-40,-30,-20,-10,10,20,30,40,60,70], "tickSize": -8, "labels": false, "title": null}},
      "y": {"field": "y", "type": "quantitative", "axis": {"orient": "left", "values": [0.1,0.2,0.3,0.4,0.6,0.7,0.8,0.9], "tickSize": -8, "labels": false, "title": null}}
    }
  },
  {
    "mark": {"type": "point", "opacity": 0},
    "encoding": {
      "x": {"field": "v", "type": "quantitative", "axis": {"orient": "top", "values": [-50, 0, 50], "tickSize": -15, "labels": false, "title": null}},
      "y": {"field": "y", "type": "quantitative", "axis": {"orient": "right", "values": [0, 0.5, 1], "tickSize": -15, "labels": false, "title": null}}
    }
  },
  {
    "mark": {"type": "point", "opacity": 0},
    "encoding": {
      "x": {"field": "v", "type": "quantitative", "axis": {"orient": "top", "values": [-60,-40,-30,-20,-10,10,20,30,40,60,70], "tickSize": -8, "labels": false, "title": null}},
      "y": {"field": "y", "type": "quantitative", "axis": {"orient": "right", "values": [0.1,0.2,0.3,0.4,0.6,0.7,0.8,0.9], "tickSize": -8, "labels": false, "title": null}}
    }
  }
],
"resolve": {"axis": {"x": "independent", "y": "independent"}}
}
